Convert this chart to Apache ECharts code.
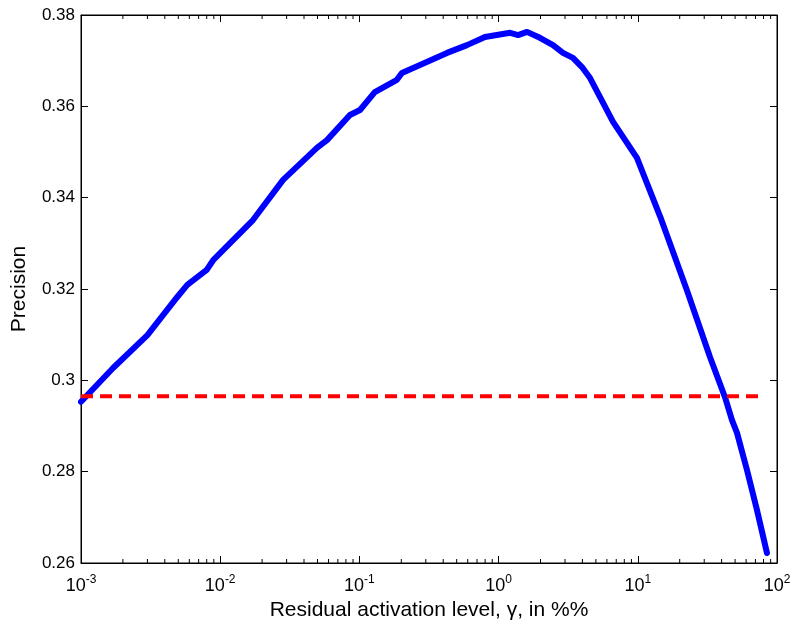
<!DOCTYPE html>
<html>
<head>
<meta charset="utf-8">
<script src="https://cdn.jsdelivr.net/npm/echarts@6/dist/echarts.min.js"></script>
<style>html,body{margin:0;padding:0;background:#fff;}#c{width:792px;height:621px;}</style>
</head>
<body>
<div id="c"></div>
<script>
// Data
var gammaValues = [0.001, 0.0017, 0.0030, 0.0049, 0.0058, 0.0080, 0.0089, 0.0172, 0.0283, 0.0495, 0.0585, 0.0855, 0.101, 0.129, 0.186, 0.202, 0.426, 0.593, 0.798, 1.21, 1.38, 1.60, 1.98, 2.46, 2.90, 3.42, 3.97, 4.54, 6.64, 9.86, 14.5, 22.5, 33.0, 42.3, 47.5, 51.6, 60.8, 71.8, 84.7];
var precisionValues = [0.2953, 0.3027, 0.3099, 0.3182, 0.3209, 0.3242, 0.3263, 0.3351, 0.3439, 0.3509, 0.3526, 0.3581, 0.3592, 0.3631, 0.3658, 0.3673, 0.3717, 0.3734, 0.3752, 0.3761, 0.3756, 0.3763, 0.3750, 0.3734, 0.3717, 0.3706, 0.3686, 0.3662, 0.3566, 0.3487, 0.3358, 0.3198, 0.3051, 0.2963, 0.2913, 0.2885, 0.2804, 0.2716, 0.2622];
var baselineX = [0.001, 82];
var baselineY = [0.2965, 0.2965];
var xTickExponents = [-3, -2, -1, 0, 1, 2];
var yTickLabels = ['0.26', '0.28', '0.3', '0.32', '0.34', '0.36', '0.38'];
var xMin = 0.001, xMax = 100, yMin = 0.26, yMax = 0.38;

var minorTicks = [];
for (var e = -3; e < 2; e++) {
  for (var m = 2; m <= 9; m++) minorTicks.push([m * Math.pow(10, e), yMin]);
}

var mainLine = gammaValues.map(function (g, i) { return [g, precisionValues[i]]; });
var baseLine = baselineX.map(function (g, i) { return [g, baselineY[i]]; });

var font = 'Liberation Sans, Arial, Helvetica, sans-serif';
var chart = echarts.init(document.getElementById('c'), null, {renderer: 'canvas'});

var option = {
  animation: false,
  backgroundColor: '#fff',
  grid: {left: 81, right: 15, top: 15, bottom: 58, show: true, borderColor: '#000', borderWidth: 1,
         containLabel: false, outerBoundsMode: 'none'},
  xAxis: [{
    type: 'log', logBase: 10, min: xMin, max: xMax, interval: 1,
    name: 'Residual activation level, \u03b3, in %%',
    nameLocation: 'middle', nameGap: 37,
    nameTextStyle: {fontFamily: font, fontSize: 21, color: '#000'},
    axisLine: {show: true, lineStyle: {color: '#000', width: 1}},
    axisTick: {show: true, inside: true, length: 7, lineStyle: {color: '#000'}},
    splitLine: {show: false},
    axisLabel: {
      margin: 11,
      formatter: function (v) {
        var ex = Math.round(Math.log10(v));
        return '{b|10}{s|' + ex + '}';
      },
      rich: {
        b: {fontFamily: font, fontSize: 18, color: '#000', verticalAlign: 'bottom', lineHeight: 21},
        s: {fontFamily: font, fontSize: 12, color: '#000', verticalAlign: 'top', lineHeight: 21}
      }
    }
  }, {
    type: 'log', logBase: 10, min: xMin, max: xMax, interval: 1, position: 'top',
    axisLine: {show: true, lineStyle: {color: '#000', width: 1}},
    axisTick: {show: true, inside: true, length: 7, lineStyle: {color: '#000'}},
    axisLabel: {show: false}, splitLine: {show: false}
  }],
  yAxis: [{
    type: 'value', min: yMin, max: yMax, interval: 0.02,
    name: 'Precision', nameLocation: 'middle', nameGap: 51,
    nameTextStyle: {fontFamily: font, fontSize: 21, color: '#000'},
    axisLine: {show: true, lineStyle: {color: '#000', width: 1}},
    axisTick: {show: true, inside: true, length: 7, lineStyle: {color: '#000'}},
    splitLine: {show: false},
    axisLabel: {
      margin: 6, fontFamily: font, fontSize: 17, color: '#000',
      formatter: function (v) {
        var idx = Math.round((v - yMin) / 0.02);
        return yTickLabels[idx] !== undefined ? yTickLabels[idx] : '';
      }
    }
  }, {
    type: 'value', min: yMin, max: yMax, interval: 0.02, position: 'right',
    axisLine: {show: true, lineStyle: {color: '#000', width: 1}},
    axisTick: {show: true, inside: true, length: 7, lineStyle: {color: '#000'}},
    axisLabel: {show: false}, splitLine: {show: false}
  }],
  series: [{
    type: 'custom',
    silent: true,
    data: minorTicks,
    renderItem: function (params, api) {
      var bottom = api.coord([api.value(0), yMin]);
      var top = api.coord([api.value(0), yMax]);
      return {
        type: 'group',
        children: [{
          type: 'line',
          shape: {x1: bottom[0], y1: bottom[1], x2: bottom[0], y2: bottom[1] - 4},
          style: {stroke: '#000', lineWidth: 1}
        }, {
          type: 'line',
          shape: {x1: top[0], y1: top[1], x2: top[0], y2: top[1] + 4},
          style: {stroke: '#000', lineWidth: 1}
        }]
      };
    }
  }, {
    type: 'line',
    data: mainLine,
    showSymbol: false,
    symbol: 'none',
    smooth: false,
    lineStyle: {color: '#0000ff', width: 6, join: 'round', cap: 'round'}
  }, {
    type: 'line',
    data: baseLine,
    showSymbol: false,
    symbol: 'none',
    lineStyle: {color: '#ff0000', width: 4, type: [12, 7]}
  }]
};
chart.setOption(option);
</script>
</body>
</html>
